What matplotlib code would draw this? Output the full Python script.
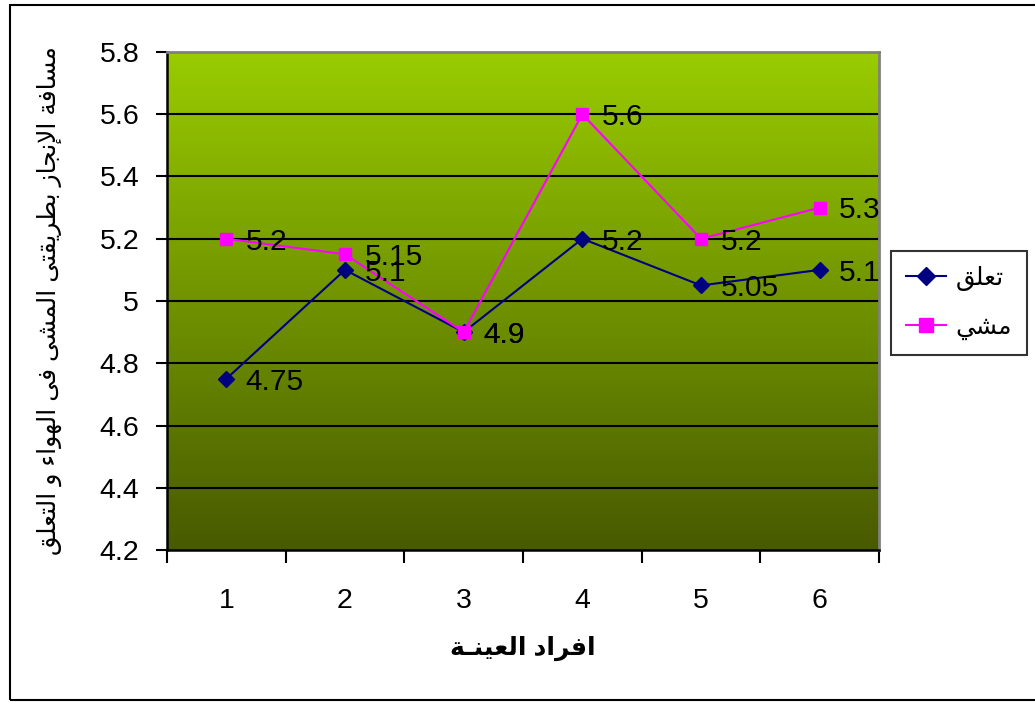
import numpy as np
import matplotlib
matplotlib.use('Agg')
import matplotlib.pyplot as plt
from matplotlib.patches import Rectangle

plt.rcParams['font.family'] = ['Liberation Sans', 'DejaVu Sans']

# data
members = [1, 2, 3, 4, 5, 6]
hang = [4.75, 5.1, 4.9, 5.2, 5.05, 5.1]
walk = [5.2, 5.15, 4.9, 5.6, 5.2, 5.3]
hang_name = 'تعلق'
walk_name = 'مشي'
x_title = 'افراد العينـة'
y_title = 'مسافة الإنجاز بطريقتى المشى فى الهواء و التعلق'
y_ticks = [4.2, 4.4, 4.6, 4.8, 5.0, 5.2, 5.4, 5.6, 5.8]

# simple arabic shaping (presentation forms, visual order)
DUAL = {'ب': 0xFE8F, 'ت': 0xFE95, 'ج': 0xFE9D, 'س': 0xFEB1, 'ش': 0xFEB5,
        'ط': 0xFEC1, 'ع': 0xFEC9, 'ف': 0xFED1, 'ق': 0xFED5, 'ل': 0xFEDD,
        'م': 0xFEE1, 'ن': 0xFEE5, 'ه': 0xFEE9, 'ي': 0xFEF1, 'ى': 0xFEEF}
RIGHT = {'ا': 0xFE8D, 'إ': 0xFE87, 'أ': 0xFE83, 'ة': 0xFE93, 'د': 0xFEA9,
         'ر': 0xFEAD, 'ز': 0xFEAF, 'و': 0xFEED}
LAMALEF = {'ا': 0xFEFB, 'إ': 0xFEF9, 'أ': 0xFEF7}
TATWEEL = 'ـ'


def joins_left(c):
    return c in DUAL or c == TATWEEL


def joins_right(c):
    return c in DUAL or c in RIGHT or c == TATWEEL


def shape(s):
    out = []
    i = 0
    while i < len(s):
        c = s[i]
        prev = s[i - 1] if i > 0 else ' '
        pj = joins_left(prev)
        if c == 'ل' and i + 1 < len(s) and s[i + 1] in LAMALEF:
            out.append(chr(LAMALEF[s[i + 1]] + (1 if pj else 0)))
            i += 2
            continue
        nxt = s[i + 1] if i + 1 < len(s) else ' '
        nj = joins_right(nxt)
        if c in DUAL:
            b = DUAL[c]
            if pj and nj:
                out.append(chr(b + 3))
            elif nj:
                out.append(chr(b + 2))
            elif pj:
                out.append(chr(b + 1))
            else:
                out.append(chr(b))
        elif c in RIGHT:
            out.append(chr(RIGHT[c] + (1 if pj else 0)))
        else:
            out.append(c)
        i += 1
    return ''.join(out[::-1])


fig = plt.figure(figsize=(10.35, 7.02), dpi=100)
fig.patches.append(Rectangle((10 / 1035, 2 / 702), 1.2, 695 / 702, transform=fig.transFigure,
                             fill=False, edgecolor='black', linewidth=1.5))

ax = fig.add_axes([167 / 1035, 1 - 550 / 702, 712 / 1035, 498 / 702])

top = np.array([153, 204, 0]) / 255
bot = np.array([72, 90, 0]) / 255
t = np.linspace(0, 1, 256)[:, None]
grad = (top[None, :] * (1 - t) + bot[None, :] * t)[:, None, :]
ax.imshow(grad, extent=[0.5, 6.5, 4.2, 5.8], aspect='auto', zorder=0, interpolation='bilinear')

ax.set_xlim(0.5, 6.5)
ax.set_ylim(4.2, 5.8)
ax.set_yticks(y_ticks)
ax.set_yticklabels([('%g' % v) for v in y_ticks], fontsize=20.5)
for v in y_ticks[1:]:
    ax.axhline(v, color='black', linewidth=1.5, zorder=1)

ax.set_xticks(members)
ax.set_xticklabels([str(m) for m in members], fontsize=20.5)
ax.tick_params(axis='x', length=0, pad=27)
ax.set_xticks(np.arange(0.5, 7, 1), minor=True)
ax.tick_params(axis='x', which='minor', length=9, width=1.5, direction='out')
ax.tick_params(axis='y', length=8, width=1.5, direction='out', pad=12)

for s in ['left', 'bottom']:
    ax.spines[s].set_linewidth(1.8)
    ax.spines[s].set_color('black')
for s in ['top', 'right']:
    ax.spines[s].set_linewidth(2)
    ax.spines[s].set_color('#808080')

ax.plot(members, hang, color='#000080', marker='D', markersize=8, linewidth=1.5,
        label=shape(hang_name), zorder=3)
ax.plot(members, walk, color='#FF00FF', marker='s', markersize=9, linewidth=1.5,
        label=shape(walk_name), zorder=3)

for x, v in zip(members, hang):
    ax.annotate('%g' % v, (x, v), xytext=(14, -2), textcoords='offset points',
                fontsize=21.5, va='center', ha='left', zorder=4)
for x, v in zip(members, walk):
    ax.annotate('%g' % v, (x, v), xytext=(14, -2), textcoords='offset points',
                fontsize=21.5, va='center', ha='left', zorder=4)

ax.set_xlabel(shape(x_title), fontsize=18, fontweight='bold')
ax.xaxis.set_label_coords(0.5, -(636 - 550) / 498)
ax.set_ylabel(shape(y_title), fontsize=18)
ax.yaxis.set_label_coords(-(167 - 62) / 712, 0.5)

leg = ax.legend(loc='upper right', bbox_to_anchor=(1027 / 1035, 1 - 251 / 702),
                bbox_transform=fig.transFigure, fontsize=18,
                frameon=True, fancybox=False, edgecolor='black', handlelength=1.6,
                handletextpad=0.4, borderpad=0.6, labelspacing=0.95, borderaxespad=0,
                markerscale=1.1)
leg.get_frame().set_linewidth(1.5)

fig.savefig('out.png', dpi=100)
